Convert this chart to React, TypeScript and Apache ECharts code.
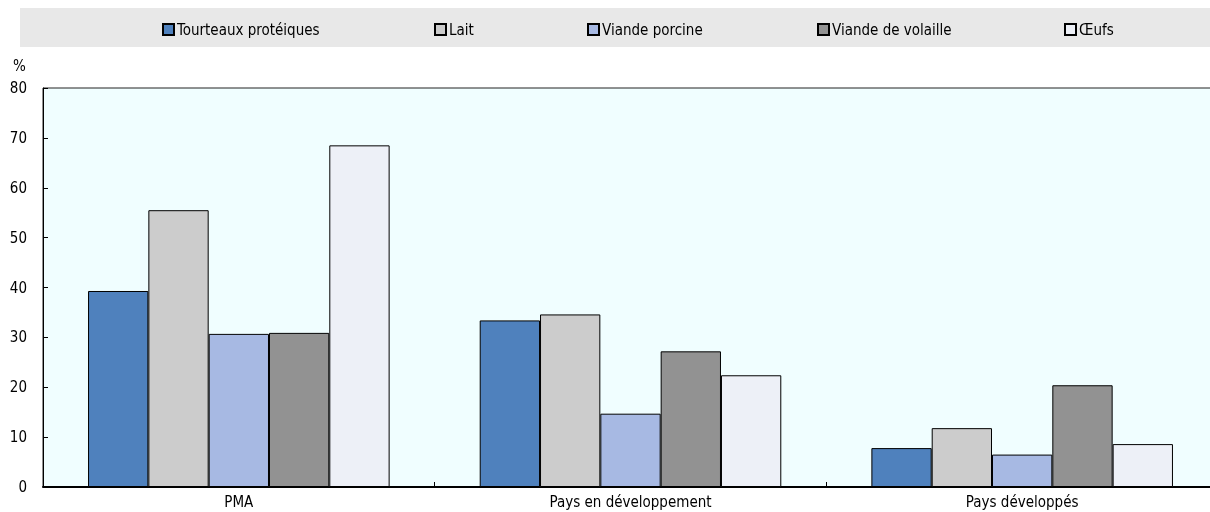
import React, { useEffect, useRef } from "react";
import * as echarts from "echarts";

const categories = ["PMA", "Pays en développement", "Pays développés"];
const seriesNames = ["Tourteaux protéiques", "Lait", "Viande porcine", "Viande de volaille", "Œufs"];
const tourteaux = [39.3, 33.4, 7.8];
const lait = [55.5, 34.6, 11.8];
const porcine = [30.7, 14.7, 6.5];
const volaille = [30.9, 27.2, 20.4];
const oeufs = [68.5, 22.4, 8.6];
const colors = ["#4F81BD", "#CCCCCC", "#A7B9E3", "#929292", "#EDF0F7"];
const legendLefts = [162, 434, 587, 817, 1064];

const FONT = "'Liberation Sans Narrow', 'Arial Narrow', 'DejaVu Sans Condensed', sans-serif";

export default function App() {
  const ref = useRef<HTMLDivElement>(null);
  useEffect(() => {
    if (!ref.current) return;
    const chart = echarts.init(ref.current, null, { renderer: "svg" });
    const values = [tourteaux, lait, porcine, volaille, oeufs];
    chart.setOption({
      animation: false,
      textStyle: { fontFamily: FONT },
      graphic: [
        {
          type: "rect",
          left: 20,
          top: 8,
          shape: { width: 1200, height: 39 },
          style: { fill: "#E8E8E8" },
          z: -10,
        },
        {
          type: "text",
          left: 13,
          top: 58,
          style: { text: "%", fontSize: 15, fontFamily: FONT, fill: "#000" },
        },
      ],
      legend: seriesNames.map((n, i) => ({
        data: [n],
        left: legendLefts[i],
        top: 22,
        icon: "rect",
        itemWidth: 11,
        itemHeight: 11,
        itemGap: 0,
        padding: 0,
        textStyle: { fontSize: 15, color: "#000", fontFamily: FONT, padding: [0, 0, 0, -2] },
      })),
      grid: {
        left: 43,
        right: 0,
        top: 88,
        bottom: 25,
        show: true,
        backgroundColor: "#F0FEFF",
        borderColor: "#222",
        borderWidth: 1,
      },
      xAxis: {
        type: "category",
        data: categories,
        axisLine: { lineStyle: { color: "#000", width: 2 } },
        axisTick: { show: true, inside: true, length: 5, lineStyle: { color: "#000" } },
        axisLabel: { fontSize: 15, color: "#000", margin: 7, fontFamily: FONT },
      },
      yAxis: {
        type: "value",
        min: 0,
        max: 80,
        interval: 10,
        axisLine: { show: true, lineStyle: { color: "#000", width: 1 } },
        axisTick: { show: true, inside: true, length: 5, lineStyle: { color: "#000" } },
        splitLine: { show: false },
        axisLabel: { fontSize: 15, color: "#000", margin: 16, fontFamily: FONT },
      },
      series: seriesNames.map((n, i) => ({
        type: "bar",
        name: n,
        data: values[i],
        barGap: "0%",
        barCategoryGap: "23%",
        itemStyle: { color: colors[i], borderColor: "#000", borderWidth: 1 },
      })),
    });
    return () => chart.dispose();
  }, []);
  return (
    <div style={{ position: "fixed", left: 0, top: 0, width: 1210, height: 512, overflow: "hidden" }}>
      <div ref={ref} style={{ width: 1218, height: 512 }} />
    </div>
  );
}
